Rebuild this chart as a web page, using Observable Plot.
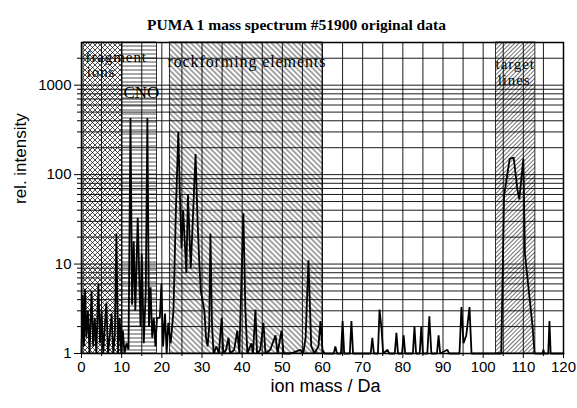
<!DOCTYPE html>
<html>
<head>
<meta charset="utf-8">
<script src="https://cdn.jsdelivr.net/npm/d3@7"></script>
<script src="https://cdn.jsdelivr.net/npm/@observablehq/plot@0.6"></script>
<style>
  html, body { margin: 0; padding: 0; background: #fff; }
  .region-label text { letter-spacing: 0.9px; }
</style>
</head>
<body>
<div id="chart"></div>
<script>
// ---- data ----
const masses = [
  0.0, 0.3, 0.6, 0.9, 1.2, 1.6, 2.0, 2.5, 2.9, 3.3, 3.7, 4.2, 4.6, 5.0, 5.4, 5.8, 6.2, 6.6, 7.0, 7.5,
  7.9, 8.3, 8.7, 9.1, 9.5, 9.9, 10.3, 10.7, 11.2, 11.7, 12.2, 12.6, 13.0, 13.4, 14.0, 14.3, 14.7, 15.0, 15.5, 16.0,
  16.4, 16.8, 17.2, 17.6, 18.0, 18.4, 18.8, 19.5, 19.9, 20.3, 20.8, 21.2, 21.6, 22.2, 22.9, 23.5, 24.1, 24.5, 24.9, 25.3,
  25.7, 26.1, 26.5, 26.9, 27.2, 27.7, 28.4, 28.9, 29.3, 29.7, 30.1, 30.6, 31.0, 31.4, 31.8, 32.1, 32.5, 32.9, 33.6, 34.2,
  34.9, 35.3, 36.0, 36.6, 37.0, 38.0, 38.8, 39.3, 40.3, 40.8, 41.3, 42.3, 42.7, 43.3, 43.7, 44.5, 45.3, 45.8, 47.0, 48.3,
  48.8, 49.8, 50.3, 52.0, 54.5, 55.2, 55.8, 56.5, 57.2, 58.0, 59.0, 59.5, 60.0, 60.5, 62.8, 63.2, 63.6, 64.6, 65.0, 65.4,
  66.8, 67.2, 67.6, 72.0, 72.4, 72.8, 73.8, 74.2, 74.7, 75.1, 76.2, 76.6, 78.0, 78.4, 78.8, 79.8, 80.2, 80.6, 82.5, 82.9,
  83.3, 84.2, 84.6, 85.0, 86.1, 86.6, 87.1, 88.5, 88.9, 89.3, 91.1, 91.5, 94.1, 94.6, 95.1, 95.8, 96.6, 97.1, 104.5, 105.2,
  106.6, 107.6, 108.5, 109.0, 110.0, 110.4, 112.3, 112.8, 114.8, 115.0, 115.2, 116.2, 116.5, 116.8, 120.0
];
const intensities = [
  1, 4.5, 1.2, 5.3, 1.5, 3, 1, 5, 1.2, 2.5, 1, 6, 1.3, 3, 1, 2, 3.7, 1, 1.5, 2.8,
  1, 1.6, 22, 1, 2.5, 1, 1.8, 1, 1.3, 1.1, 430, 3.5, 18, 3, 33, 10, 2, 13, 1.3, 5,
  430, 2, 5.5, 1.5, 2.5, 1.2, 2.5, 2.5, 6, 1.2, 2.8, 1, 2.2, 1.3, 3, 40, 300, 60, 15, 40,
  18, 8, 60, 20, 9, 30, 170, 30, 11, 5, 4, 3, 1.5, 1.2, 2, 22, 2, 1, 1.2, 1,
  2.5, 1, 1.1, 1.5, 1, 1.1, 1.8, 1, 37, 3, 1, 1.3, 1, 3.1, 1, 1.1, 2.2, 1, 1.1, 1.6,
  1, 1.8, 1, 1, 1.1, 1, 1.5, 11, 1.2, 1, 1.2, 2.3, 1.1, 1, 1, 1.2, 1, 1, 2.3, 1,
  1, 2.3, 1, 1, 1.5, 1, 1, 3.1, 1.9, 1, 1.1, 1, 1, 1.7, 1, 1, 1.6, 1, 1, 2.0,
  1, 1, 2.0, 1, 1, 2.6, 1, 1, 1.6, 1, 1.1, 1, 1, 3.3, 1.3, 1.6, 3.3, 1, 1, 58,
  150, 155, 69, 53, 150, 13, 2, 1, 1, 1.1, 1, 1, 2.3, 1, 1
];

// shaded mass regions
const regionNames = ["fragment ions", "CNO", "rockforming elements", "target lines"];
const regionStart = [0.5, 10.2, 22, 103.2];
const regionEnd = [10.2, 18.8, 60, 113];
const regionPattern = ["cross", "horiz", "back", "fwd"];

// region label lines (text, left mass, intensity at middle of line)
const labelTexts = ["fragment", "ions", "CNO", "rockforming elements", "target", "lines"];
const labelMass = [1.0, 1.3, 10.45, 21.4, 103.1, 103.6];
const labelLevel = [2050, 1380, 830, 1800, 1720, 1150];

const xTicks = [0, 10, 20, 30, 40, 50, 60, 70, 80, 90, 100, 110, 120];
const xMinorTicks = [5, 15, 25, 35, 45, 55, 65, 75, 85, 95, 105, 115];
const xGrid = d3.range(5, 120, 5);
const yTicks = [1, 10, 100, 1000];
const yGrid = [];
for (const dec of [1, 10, 100, 1000]) for (let k = 1; k <= 9; k++) { const v = k * dec; if (v > 1 && v < 3000) yGrid.push(v); }
const yMinorTicks = yGrid.filter(v => !yTicks.includes(v));

const spectrum = masses.map((m, i) => ({m, v: intensities[i]}));
const regions = regionNames.map((name, i) => ({name, x1: regionStart[i], x2: regionEnd[i], pattern: regionPattern[i]}));
const labels = labelTexts.map((t, i) => ({t, x: labelMass[i], y: labelLevel[i]}));

const serif = "'Liberation Serif', 'Times New Roman', serif";

const plot = Plot.plot({
  width: 577,
  height: 408,
  marginLeft: 81,
  marginRight: 14,
  marginTop: 42,
  marginBottom: 55,
  style: {fontFamily: "'Liberation Sans', Arial, sans-serif", fontSize: "15px", background: "#fff", color: "#000"},
  x: {domain: [0, 120]},
  y: {type: "log", domain: [1, 3000]},
  marks: [
    ...regions.map(r => Plot.rect([r], {x1: "x1", x2: "x2", y1: 1, y2: 3000, fill: `url(#pat-${r.pattern})`, stroke: "#000", strokeWidth: 0.8})),
    Plot.ruleX(xGrid, {stroke: "#000", strokeWidth: 0.9}),
    Plot.ruleY(yGrid, {stroke: "#000", strokeWidth: 0.9}),
    Plot.text(labels.filter(d => d.t !== "CNO" && d.t !== "rockforming elements"), {x: "x", y: "y", text: "t", textAnchor: "start", fontFamily: serif, fontSize: 15, fill: "#000", className: "region-label"}),
    Plot.text(labels.filter(d => d.t === "rockforming elements"), {x: "x", y: "y", text: "t", textAnchor: "start", fontFamily: serif, fontSize: 16, fill: "#000", className: "region-label"}),
    Plot.text(labels.filter(d => d.t === "CNO"), {x: "x", y: "y", text: "t", textAnchor: "start", fontFamily: serif, fontSize: 17, fill: "#000"}),
    Plot.line(spectrum, {x: "m", y: "v", stroke: "#000", strokeWidth: 1.8, strokeLinejoin: "miter"}),
    Plot.frame({stroke: "#000", strokeWidth: 1.5}),
    Plot.axisX({ticks: xTicks, tickSize: 5, tickPadding: 3, fontSize: 15, label: null, tickFormat: d => String(d)}),
    Plot.axisX({ticks: xMinorTicks, tickSize: 3, tickFormat: () => "", label: null}),
    Plot.axisY({ticks: yTicks, tickSize: 7, tickPadding: 3, fontSize: 15, label: null, tickFormat: d => String(d)}),
    Plot.axisY({ticks: yMinorTicks, tickSize: 4, tickFormat: () => "", label: null}),
    Plot.text(["PUMA 1 mass spectrum #51900 original data"], {frameAnchor: "top", dy: -24, dx: -26, fontFamily: serif, fontWeight: "bold", fontSize: 15.5, fill: "#000"}),
    Plot.text(["rel. intensity"], {frameAnchor: "left", dx: -61, dy: 6, rotate: -90, fontSize: 17, fill: "#000"}),
    Plot.text(["ion mass / Da"], {frameAnchor: "bottom", dy: 38, dx: 3, fontSize: 18, fill: "#000"})
  ]
});

// hatch patterns
const defs = d3.select(plot).insert("defs", ":first-child");
const cross = defs.append("pattern").attr("id", "pat-cross").attr("patternUnits", "userSpaceOnUse").attr("width", 5).attr("height", 5);
cross.append("rect").attr("width", 5).attr("height", 5).attr("fill", "#fff");
cross.append("path").attr("d", "M0,0L5,5M5,0L0,5M-1,4L1,6M4,-1L6,1M-1,1L1,-1M4,6L6,4").attr("stroke", "#000").attr("stroke-width", 0.7);
const horiz = defs.append("pattern").attr("id", "pat-horiz").attr("patternUnits", "userSpaceOnUse").attr("width", 6).attr("height", 4);
horiz.append("rect").attr("width", 6).attr("height", 4).attr("fill", "#fff");
horiz.append("path").attr("d", "M0,2H6").attr("stroke", "#222").attr("stroke-width", 0.8);
const back = defs.append("pattern").attr("id", "pat-back").attr("patternUnits", "userSpaceOnUse").attr("width", 3.8).attr("height", 3.8).attr("patternTransform", "rotate(-45)");
back.append("rect").attr("width", 3.8).attr("height", 3.8).attr("fill", "#fff");
back.append("path").attr("d", "M1.9,0V3.8").attr("stroke", "#111").attr("stroke-width", 0.75);
const fwd = defs.append("pattern").attr("id", "pat-fwd").attr("patternUnits", "userSpaceOnUse").attr("width", 3).attr("height", 3).attr("patternTransform", "rotate(45)");
fwd.append("rect").attr("width", 3).attr("height", 3).attr("fill", "#fff");
fwd.append("path").attr("d", "M1.5,0V3").attr("stroke", "#111").attr("stroke-width", 0.6);

document.getElementById("chart").append(plot);
</script>
</body>
</html>
